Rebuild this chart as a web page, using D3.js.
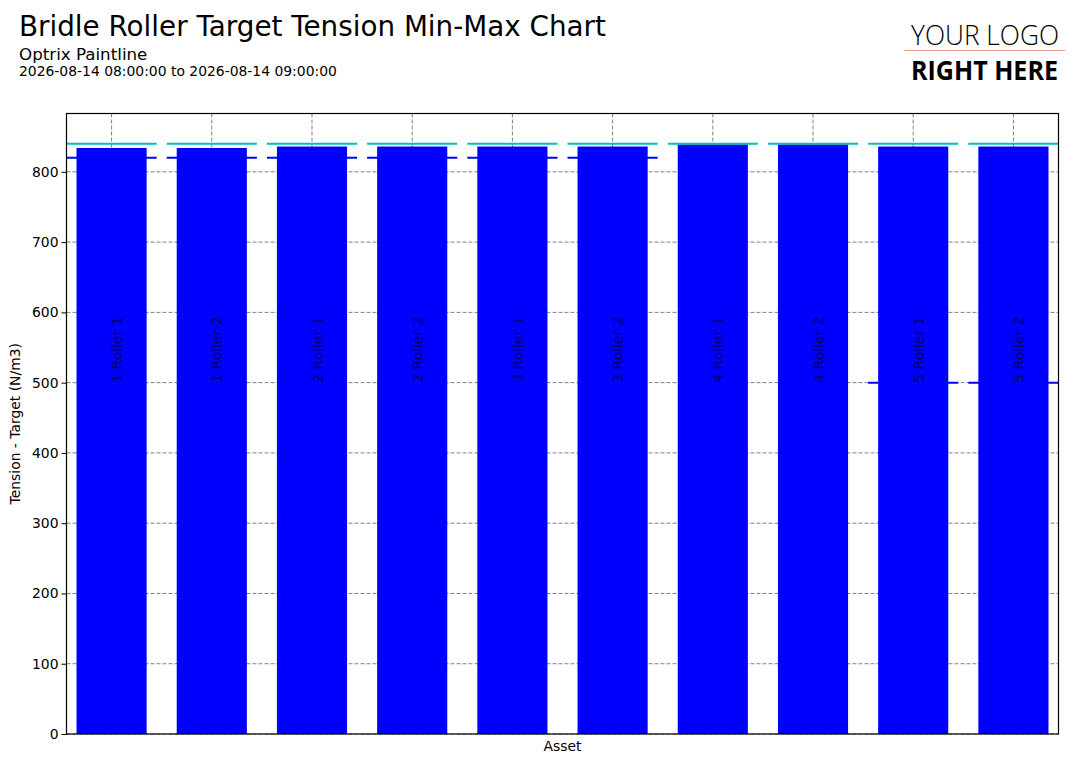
<!DOCTYPE html>
<html>
<head>
<meta charset="utf-8">
<script src="https://cdn.jsdelivr.net/npm/d3@7"></script>
<style>
  html, body { margin: 0; padding: 0; background: #fff; }
  text { font-family: "DejaVu Sans", sans-serif; }
</style>
</head>
<body>
<div id="chart"></div>
<script>
'use strict';

const assets = [
  '1 Roller 1', '1 Roller 2', '2 Roller 1', '2 Roller 2', '3 Roller 1',
  '3 Roller 2', '4 Roller 1', '4 Roller 2', '5 Roller 1', '5 Roller 2',
];
const targetValues = [834, 834, 836, 836, 836, 836, 839, 839, 836, 836];
const minValues = [820, 820, 820, 820, 820, 820, null, null, 500, 500];
const maxValues = [840, 840, 840, 840, 840, 840, 840, 840, 840, 840];
const yTicks = [0, 100, 200, 300, 400, 500, 600, 700, 800];

const width = 1081;
const height = 764;

const margin = {
  top: 113.5,
  right: 22.5,
  bottom: 30,
  left: 66.5,
};

const plotW = width - margin.left - margin.right;
const plotH = height - margin.top - margin.bottom;

const smallFont = '13.9px';

const svg = d3.select('#chart')
  .append('svg')
  .attr('width', width)
  .attr('height', height);

// Titles
svg.append('text')
  .attr('x', 19)
  .attr('y', 36)
  .style('font-size', '27.8px')
  .text('Bridle Roller Target Tension Min-Max Chart');

svg.append('text')
  .attr('x', 19)
  .attr('y', 60)
  .style('font-size', '16.7px')
  .text('Optrix Paintline');

svg.append('text')
  .attr('x', 19)
  .attr('y', 76)
  .style('font-size', smallFont)
  .text('2026-08-14 08:00:00 to 2026-08-14 09:00:00');

// Logo placeholder
const logo = svg.append('g');

logo.append('text')
  .attr('x', 911)
  .attr('y', 45)
  .attr('textLength', 148)
  .attr('lengthAdjust', 'spacingAndGlyphs')
  .style('font-family', '"Open Sans", sans-serif')
  .style('font-weight', 300)
  .style('font-size', '28px')
  .text('YOUR LOGO');

logo.append('line')
  .attr('x1', 904)
  .attr('x2', 1065)
  .attr('y1', 50.5)
  .attr('y2', 50.5)
  .attr('stroke', '#f29a9a')
  .attr('stroke-width', 1);

logo.append('text')
  .attr('x', 911)
  .attr('y', 80)
  .attr('textLength', 147)
  .attr('lengthAdjust', 'spacingAndGlyphs')
  .style('font-family', '"Open Sans", sans-serif')
  .style('font-weight', 700)
  .style('font-size', '27px')
  .text('RIGHT HERE');

const g = svg.append('g')
  .attr('transform', `translate(${margin.left}, ${margin.top})`);

// Categories sit at integer positions, with a little padding at both ends
const xScale = d3.scaleLinear()
  .domain([-0.45, assets.length - 0.55])
  .range([0, plotW]);

const yScale = d3.scaleLinear()
  .domain([0, 883])
  .range([plotH, 0]);

g.append('clipPath')
  .attr('id', 'plot-clip')
  .append('rect')
  .attr('width', plotW)
  .attr('height', plotH);

// Grid lines
g.append('g')
  .selectAll('line')
  .data(yTicks)
  .join('line')
  .attr('x1', 0)
  .attr('x2', plotW)
  .attr('y1', (d) => yScale(d))
  .attr('y2', (d) => yScale(d))
  .attr('stroke', '#808080')
  .attr('stroke-dasharray', '4,2');

g.append('g')
  .selectAll('line')
  .data(assets)
  .join('line')
  .attr('x1', (d, i) => xScale(i))
  .attr('x2', (d, i) => xScale(i))
  .attr('y1', 0)
  .attr('y2', plotH)
  .attr('stroke', '#808080')
  .attr('stroke-dasharray', '4,2');

const marks = g.append('g')
  .attr('clip-path', 'url(#plot-clip)');

// Bars
marks.selectAll('rect.bar')
  .data(targetValues)
  .join('rect')
  .attr('class', 'bar')
  .attr('x', (d, i) => xScale(i - 0.35))
  .attr('width', xScale(0.35) - xScale(-0.35))
  .attr('y', (d) => yScale(d))
  .attr('height', (d) => yScale(0) - yScale(d))
  .attr('fill', '#0000ff');

// Min and max limits
const drawLimits = (values, color) => {
  marks.append('g')
    .selectAll('line')
    .data(values.map((v, i) => ({ v, i })).filter((d) => d.v !== null))
    .join('line')
    .attr('x1', (d) => xScale(d.i - 0.45))
    .attr('x2', (d) => xScale(d.i + 0.45))
    .attr('y1', (d) => yScale(d.v))
    .attr('y2', (d) => yScale(d.v))
    .attr('stroke', color)
    .attr('stroke-width', 2);
}

drawLimits(minValues, '#0000ff');
drawLimits(maxValues, '#00bfbf');

// Asset names written up the bars
marks.selectAll('text.name')
  .data(assets)
  .join('text')
  .attr('class', 'name')
  .attr('transform', (d, i) => `translate(${xScale(i)}, ${yScale(500)}) rotate(-90)`)
  .attr('dy', '0.76em')
  .style('font-size', smallFont)
  .style('fill', 'rgba(0, 0, 0, 0.65)')
  .text((d) => d);

// Axes
const yAxis = d3.axisLeft(yScale)
  .tickValues(yTicks)
  .tickSize(5)
  .tickPadding(3);

const yAxisG = g.append('g')
  .call(yAxis);

yAxisG.select('.domain').remove();
yAxisG.selectAll('text')
  .style('font-family', '"DejaVu Sans", sans-serif')
  .style('font-size', smallFont)
  .attr('fill', '#000');
yAxisG.selectAll('line').attr('stroke', '#000');

g.append('rect')
  .attr('width', plotW)
  .attr('height', plotH)
  .attr('fill', 'none')
  .attr('stroke', '#000')
  .attr('stroke-width', 1.2);

// Axis titles
svg.append('text')
  .attr('x', margin.left + plotW / 2)
  .attr('y', 751)
  .attr('text-anchor', 'middle')
  .style('font-size', smallFont)
  .text('Asset');

svg.append('text')
  .attr('transform', `translate(20, ${margin.top + plotH / 2}) rotate(-90)`)
  .attr('text-anchor', 'middle')
  .style('font-size', smallFont)
  .text('Tension - Target (N/m3)');
</script>
</body>
</html>
